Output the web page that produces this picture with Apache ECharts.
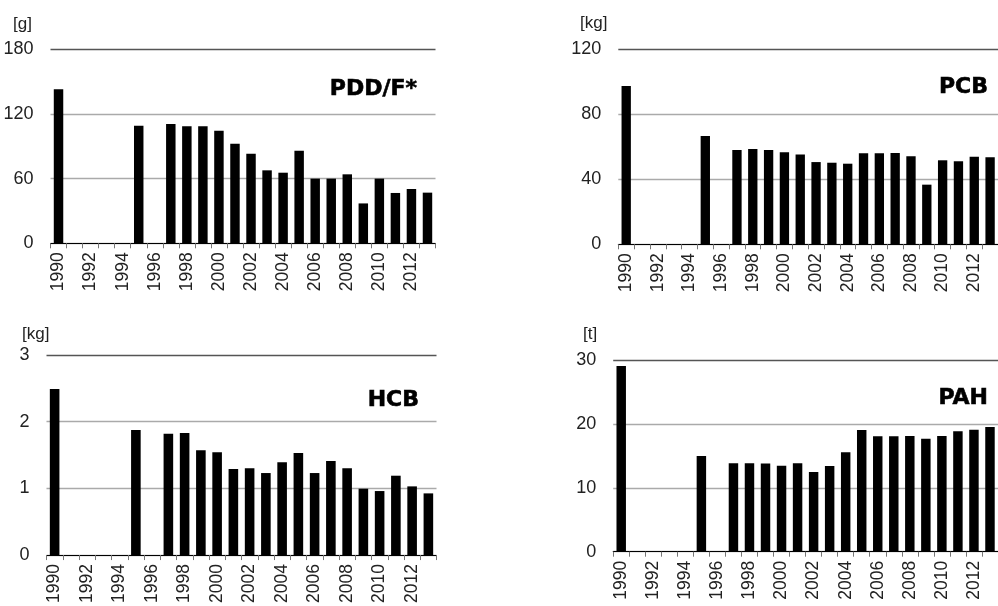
<!DOCTYPE html>
<html>
<head>
<meta charset="utf-8">
<script src="https://cdn.jsdelivr.net/npm/echarts@6/dist/echarts.min.js"></script>
<style>
  html, body { margin: 0; padding: 0; background: #fff; }
  #chart { width: 998px; height: 606px; }
</style>
</head>
<body>
<div id="chart"></div>
<script>
// Years 1990-2013; no values reported for 1991-1994 and 1996
const years = ['1990','1991','1992','1993','1994','1995','1996','1997','1998','1999','2000','2001',
               '2002','2003','2004','2005','2006','2007','2008','2009','2010','2011','2012','2013'];

const pddf = [143, null, null, null, null, 109, null, 110.7, 108.6, 108.6, 104.5, 92.4,
              83.1, 67.7, 65.5, 85.9, 60, 60, 64, 37, 60, 46.7, 50.4, 47];
const pcb  = [97.4, null, null, null, null, 66.6, null, 58.0, 58.6, 58.0, 56.6, 55.2,
              50.6, 50.2, 49.6, 56, 56, 56.2, 54.2, 36.7, 51.7, 51.1, 53.9, 53.5];
const hcb  = [2.49, null, null, null, null, 1.876, null, 1.82, 1.83, 1.57, 1.54, 1.29,
              1.30, 1.23, 1.39, 1.53, 1.23, 1.41, 1.30, 0.995, 0.96, 1.19, 1.03, 0.925];
const pah  = [29.06, null, null, null, null, 14.97, null, 13.83, 13.83, 13.8, 13.46, 13.83,
              12.47, 13.4, 15.55, 19.05, 18.06, 18.06, 18.1, 17.68, 18.1, 18.84, 19.09, 19.5];

const panelNames = ['PDD/F*', 'PCB', 'HCB', 'PAH'];
const units = ['[g]', '[kg]', '[kg]', '[t]'];
const yMax = [180, 120, 3, 30];
const yStep = [60, 40, 1, 10];
const seriesData = [pddf, pcb, hcb, pah];

// grid boxes (left, top, width, height)
const grids = [
  { left: 50.5, top: 49.3, width: 385, height: 194 },
  { left: 618.3, top: 49.3, width: 385.5, height: 195 },
  { left: 46.5, top: 355, width: 390, height: 201 },
  { left: 613.2, top: 360, width: 390.8, height: 191.7 }
];

const FONT = '"Liberation Sans", Arial, sans-serif';
const TITLE_FONT = 'bold 22px "DejaVu Sans", sans-serif';

function titleText(x, y, text) {
  return {
    type: 'text', x: x, y: y,
    style: {
      text: text, font: TITLE_FONT, fill: '#000',
      stroke: '#000', lineWidth: 0.6,
      align: 'right', verticalAlign: 'middle'
    }
  };
}

function unitText(left, top, text) {
  return { type: 'text', left: left, top: top, style: { text: text, font: '17px ' + FONT, fill: '#222' } };
}

const option = {
  animation: false,
  backgroundColor: '#fff',
  grid: grids.map(g => Object.assign({ containLabel: false }, g)),
  xAxis: grids.map((g, i) => ({
    type: 'category',
    gridIndex: i,
    data: years,
    boundaryGap: true,
    axisLine: { show: true, lineStyle: { color: '#000', width: 1 } },
    axisTick: { show: true, interval: 0, length: 5, lineStyle: { color: '#777' } },
    axisLabel: {
      interval: 1, rotate: 90, margin: 9,
      fontFamily: FONT, fontSize: 17.5, color: '#222'
    },
    splitLine: { show: false }
  })),
  yAxis: grids.map((g, i) => ({
    type: 'value',
    gridIndex: i,
    min: 0, max: yMax[i], interval: yStep[i],
    axisLine: { show: false },
    axisTick: { show: false },
    axisLabel: { margin: 17, fontFamily: FONT, fontSize: 18, color: '#222' },
    splitLine: { show: true, lineStyle: { color: ['#aaa', '#aaa', '#aaa', '#555'], width: 1.3 } }
  })),
  series: seriesData.map((d, i) => ({
    type: 'bar',
    xAxisIndex: i,
    yAxisIndex: i,
    data: d,
    barWidth: '59%',
    itemStyle: { color: '#000' },
    silent: true
  })),
  graphic: [
    unitText(13, 16, units[0]),
    unitText(580, 15, units[1]),
    unitText(22, 326, units[2]),
    unitText(583, 326, units[3]),
    titleText(417, 89, panelNames[0]),
    titleText(988, 87, panelNames[1]),
    titleText(419, 400, panelNames[2]),
    titleText(988, 398, panelNames[3])
  ]
};

const chart = echarts.init(document.getElementById('chart'), null, { renderer: 'canvas' });
chart.setOption(option);
</script>
</body>
</html>
